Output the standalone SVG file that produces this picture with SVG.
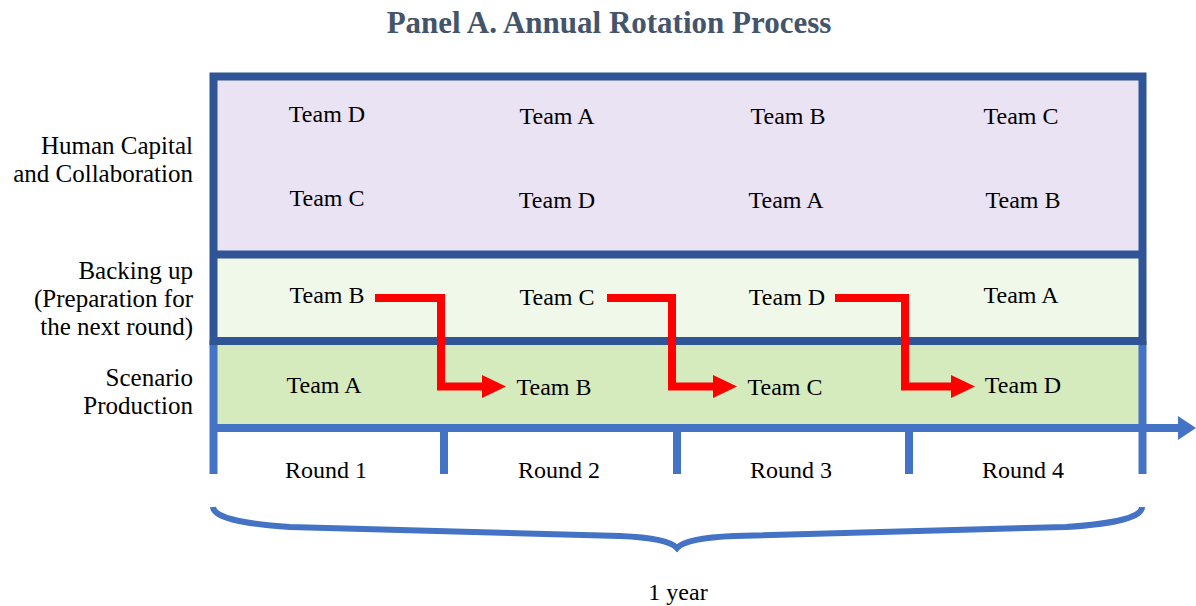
<svg xmlns="http://www.w3.org/2000/svg" width="1196" height="606" viewBox="0 0 1196 606">
<defs>
<style>
.t{font-family:"Liberation Serif","Times New Roman",serif;font-size:24px;fill:#000;text-anchor:middle}
.l{font-family:"Liberation Serif","Times New Roman",serif;font-size:25px;fill:#000;text-anchor:end}
.title{font-family:"Liberation Serif","Times New Roman",serif;font-size:31px;font-weight:bold;fill:#44546A;text-anchor:middle}
.dk{stroke:#2F5597;stroke-width:8;fill:none}
.lt{stroke:#4472C4;stroke-width:8;fill:none}
.red{stroke:#FF0000;stroke-width:8;fill:none;stroke-linejoin:miter}
</style>
</defs>
<rect width="1196" height="606" fill="#fff"/>
<text class="title" x="609" y="33">Panel A. Annual Rotation Process</text>

<g id="hc-row">
<rect x="213.5" y="76.5" width="929" height="178" fill="#EAE3F3"/>
</g>
<g id="backup-row">
<rect x="213.5" y="254.5" width="929" height="87" fill="#F0F8E9"/>
</g>
<g id="scenario-row">
<rect x="213.5" y="341.5" width="929" height="87" fill="#D5EBBD"/>
</g>

<g id="frame">
<path class="lt" d="M213.5,341 V474 M1142.5,341 V474 M444,428 V474 M677,428 V474 M909,428 V474"/>
<path class="lt" d="M210,428 H1180"/>
<polygon points="1178,416 1196,428 1178,440" fill="#4472C4"/>
<rect class="dk" x="213.5" y="76.5" width="929" height="264.5"/>
<path class="dk" d="M210,254.5 H1146"/>
</g>

<g id="labels">
<text class="l" x="193" y="154">Human Capital</text>
<text class="l" x="193" y="182">and Collaboration</text>
<text class="l" x="193" y="279">Backing up</text>
<text class="l" x="193" y="307">(Preparation for</text>
<text class="l" x="193" y="335">the next round)</text>
<text class="l" x="193" y="386">Scenario</text>
<text class="l" x="193" y="414">Production</text>
</g>

<g id="teams">
<text class="t" x="327" y="122">Team D</text>
<text class="t" x="557" y="124">Team A</text>
<text class="t" x="788" y="124">Team B</text>
<text class="t" x="1021" y="124">Team C</text>
<text class="t" x="327" y="206">Team C</text>
<text class="t" x="557" y="208">Team D</text>
<text class="t" x="786" y="208">Team A</text>
<text class="t" x="1023" y="208">Team B</text>
<text class="t" x="327" y="303">Team B</text>
<text class="t" x="557" y="305">Team C</text>
<text class="t" x="787" y="305">Team D</text>
<text class="t" x="1021" y="303">Team A</text>
<text class="t" x="324" y="393">Team A</text>
<text class="t" x="554" y="395">Team B</text>
<text class="t" x="785" y="395">Team C</text>
<text class="t" x="1023" y="393">Team D</text>
</g>

<g id="connectors">
<polyline class="red" points="375,298 441,298 441,386.5 484,386.5"/>
<polygon points="482,375 506,386.5 482,398" fill="#FF0000"/>
<polyline class="red" points="607,298 672,298 672,386.5 715,386.5"/>
<polygon points="713,375 737,386.5 713,398" fill="#FF0000"/>
<polyline class="red" points="835,298 905,298 905,386.5 953,386.5"/>
<polygon points="951,375 975,386.5 951,398" fill="#FF0000"/>
</g>

<g id="rounds">
<text class="t" x="326" y="478">Round 1</text>
<text class="t" x="559" y="478">Round 2</text>
<text class="t" x="791" y="478">Round 3</text>
<text class="t" x="1023" y="478">Round 4</text>
</g>

<g id="brace">
<path d="M213,507 Q214,522 290,527 L620,536 Q668,538 677,548 Q686,538 734,536 L1066,527 Q1142,522 1142,507" stroke="#4472C4" stroke-width="6" fill="none"/>
<text class="t" x="678" y="600">1 year</text>
</g>
</svg>
